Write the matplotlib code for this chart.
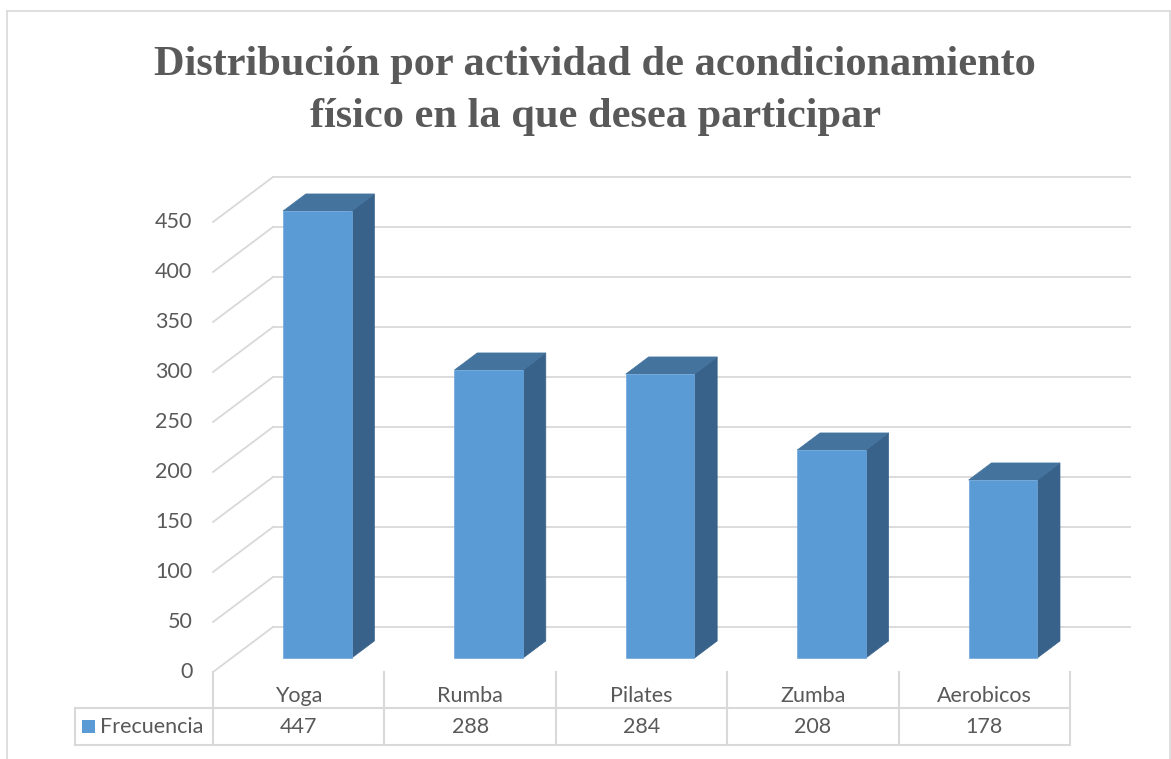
import matplotlib.pyplot as plt
from matplotlib.patches import Polygon, Rectangle
from matplotlib.lines import Line2D

# data
categories = ['Yoga', 'Rumba', 'Pilates', 'Zumba', 'Aerobicos']
frecuencia = [447, 288, 284, 208, 178]
series_name = 'Frecuencia'
ticks = [0, 50, 100, 150, 200, 250, 300, 350, 400, 450]
title = 'Distribución por actividad de acondicionamiento\nfísico en la que desea participar'

W, H = 1171, 759
CAT_PX = 171.4          # width of one category on the front plane
X0_PX = 213             # left edge of the front plane
Y0_PX = 672             # value 0 on the front plane

DX = 60 / CAT_PX        # full depth offset, in category units
DY = 45                 # full depth offset, in value units
BAR_W = 0.40
D_FRONT, D_BACK = 0.31, 0.69

FACE = '#5B9BD5'
TOP = '#44739E'
SIDE = '#38628A'
GRID = '#D9D9D9'
TXT = '#595959'
FS = 15.5

plt.rcParams['font.family'] = ['Lato', 'DejaVu Sans']

fig = plt.figure(figsize=(W / 100, H / 100), dpi=100)
ax = fig.add_axes([0, 0, 1, 1])
ax.set_xlim(-X0_PX / CAT_PX, (W - X0_PX) / CAT_PX)
ax.set_ylim(Y0_PX - H, Y0_PX)
ax.axis('off')

n = len(categories)

# back wall gridlines and side wall diagonals
for t in ticks:
    ax.plot([DX, n + DX], [t + DY, t + DY], color=GRID, lw=1.3, zorder=1)
    ax.plot([0, DX], [t, t + DY], color=GRID, lw=1.3, zorder=1)
    ax.text(-0.12, t, str(t), ha='right', va='center', fontsize=FS, color=TXT)


def pt(x, v, d):
    return (x + d * DX, v + d * DY)


for i, v in enumerate(frecuencia):
    xl = i + 0.5 - BAR_W / 2
    xr = i + 0.5 + BAR_W / 2
    front = [pt(xl, 0, D_FRONT), pt(xr, 0, D_FRONT), pt(xr, v, D_FRONT), pt(xl, v, D_FRONT)]
    side = [pt(xr, 0, D_FRONT), pt(xr, 0, D_BACK), pt(xr, v, D_BACK), pt(xr, v, D_FRONT)]
    top = [pt(xl, v, D_FRONT), pt(xr, v, D_FRONT), pt(xr, v, D_BACK), pt(xl, v, D_BACK)]
    ax.add_patch(Polygon(side, closed=True, fc=SIDE, ec=SIDE, lw=0.5, zorder=3))
    ax.add_patch(Polygon(top, closed=True, fc=TOP, ec=TOP, lw=0.5, zorder=3))
    ax.add_patch(Polygon(front, closed=True, fc=FACE, ec='#6FA8DC', lw=0.5, zorder=4))

# data table
row1, row2 = -36, -73
key_x = -(X0_PX - 75) / CAT_PX
ax.plot([key_x, n], [row1, row1], color=GRID, lw=1.5, zorder=2)
ax.plot([key_x, n], [row2, row2], color=GRID, lw=1.5, zorder=2)
ax.plot([key_x, key_x], [row1, row2], color=GRID, lw=1.5, zorder=2)
for j in range(n + 1):
    ax.plot([j, j], [0, row2], color=GRID, lw=1.5, zorder=2)
for i, c in enumerate(categories):
    ax.text(i + 0.5, -24, c, ha='center', va='center', fontsize=FS, color=TXT)
    ax.text(i + 0.5, -55, str(frecuencia[i]), ha='center', va='center', fontsize=FS, color=TXT)
ax.add_patch(Rectangle((key_x + 7 / CAT_PX, -61), 13 / CAT_PX, 13, fc=FACE, ec='none'))
ax.text(key_x + 25 / CAT_PX, -55, series_name, ha='left', va='center', fontsize=FS, color=TXT)

# title
fig.text(595 / W, 1 - 91 / H, title, ha='center', va='center', fontsize=30.5,
         fontweight='bold', color=TXT, family='Liberation Serif', linespacing=1.48)

# chart area border
bx0, bx1, by = 7 / W, 1170 / W, 1 - 11 / H
for xs, ys in [([bx0, bx0], [0, by]), ([bx0, bx1], [by, by]), ([bx1, bx1], [by, 0])]:
    fig.add_artist(Line2D(xs, ys, color=GRID, lw=1.2))

fig.savefig('out.png', dpi=100)
